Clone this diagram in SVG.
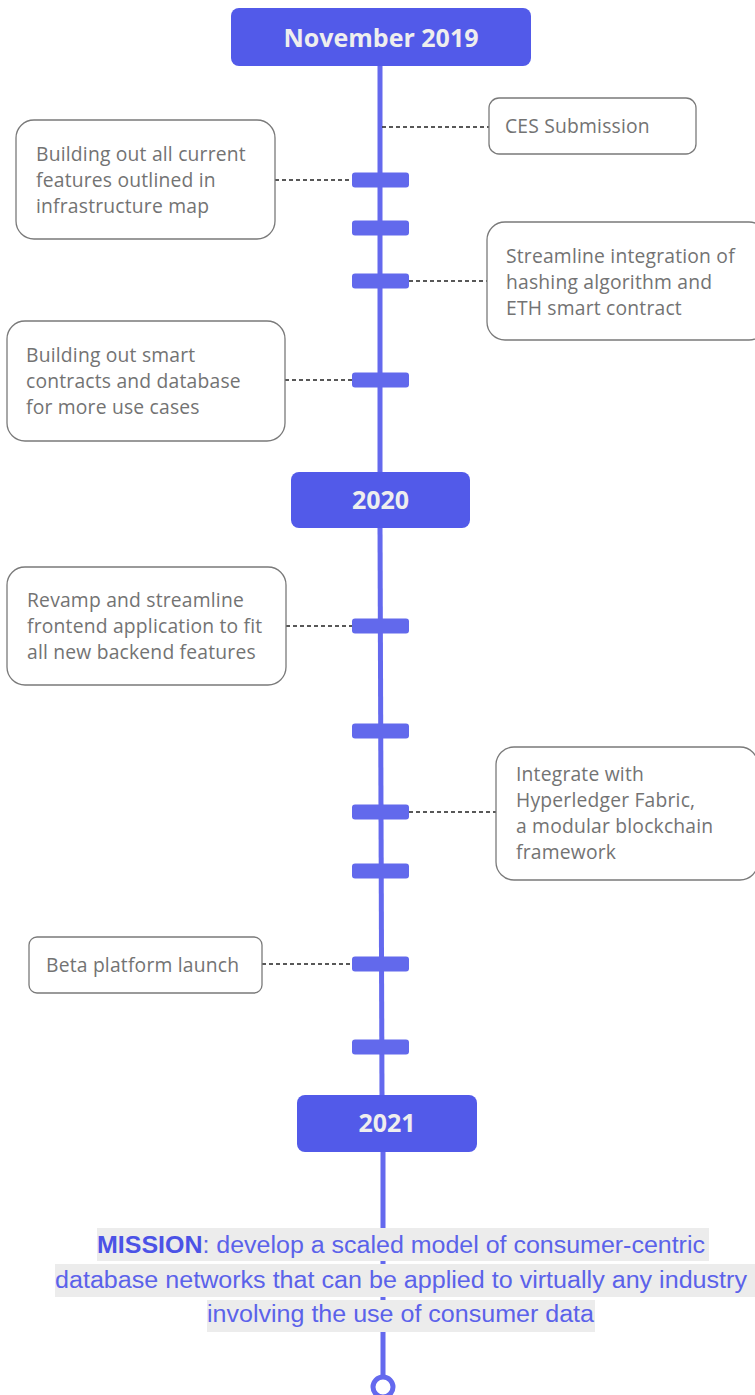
<svg xmlns="http://www.w3.org/2000/svg" width="755" height="1395" viewBox="0 0 755 1395">
<style>
.yr{fill:#525ae9}
.yt{font-family:"Open Sans","Liberation Sans",sans-serif;font-weight:700;font-size:25px;fill:#eeeeee;text-anchor:middle}
.tick{fill:#6269ec}
.spine{stroke:#6469ee;stroke-width:5;fill:none}
.box{fill:#ffffff;stroke:#7a7a7a;stroke-width:1.3}
.bt{font-family:"Open Sans","Liberation Sans",sans-serif;font-size:19.3px;letter-spacing:0.2px;fill:#737373}
.dash{stroke:#222;stroke-width:1.3;stroke-dasharray:4 3;fill:none}
.mbg{fill:#ececec}
.mt{font-family:"Liberation Sans","Arial",sans-serif;font-size:23px;fill:#5b62ea;text-anchor:middle}
.mb{font-weight:700;fill:#4b52e6}
</style>
<g id="connectors">
<line class="spine" x1="380" y1="60" x2="380" y2="475"/>
<line class="spine" x1="380" y1="525" x2="382" y2="1098"/>
<line class="spine" x1="383" y1="1148" x2="383" y2="1376"/>
<circle cx="383" cy="1387" r="10" fill="#ffffff" stroke="#6469ee" stroke-width="5"/>
<line class="dash" x1="382" y1="127" x2="489" y2="127"/>
<line class="dash" x1="275" y1="180" x2="353" y2="180"/>
<line class="dash" x1="409" y1="281" x2="487" y2="281"/>
<line class="dash" x1="285" y1="380" x2="353" y2="380"/>
<line class="dash" x1="286" y1="626" x2="353" y2="626"/>
<line class="dash" x1="409" y1="812" x2="496" y2="812"/>
<line class="dash" x1="262" y1="964" x2="353" y2="964"/>
</g>
<g id="ticks">
<rect class="tick" x="352" y="172.5" width="57" height="15" rx="3"/>
<rect class="tick" x="352" y="220.5" width="57" height="15" rx="3"/>
<rect class="tick" x="352" y="273.5" width="57" height="15" rx="3"/>
<rect class="tick" x="352" y="372.5" width="57" height="15" rx="3"/>
<rect class="tick" x="352" y="618.5" width="57" height="15" rx="3"/>
<rect class="tick" x="352" y="723.5" width="57" height="15" rx="3"/>
<rect class="tick" x="352" y="804.5" width="57" height="15" rx="3"/>
<rect class="tick" x="352" y="863.5" width="57" height="15" rx="3"/>
<rect class="tick" x="352" y="956.5" width="57" height="15" rx="3"/>
<rect class="tick" x="352" y="1039.5" width="57" height="15" rx="3"/>
</g>
<g id="nov2019">
<rect class="yr" x="231" y="8" width="300" height="58" rx="8"/>
<text class="yt" x="381" y="47">November 2019</text>
</g>
<g id="y2020">
<rect class="yr" x="291" y="472" width="179" height="56" rx="8"/>
<text class="yt" x="380.5" y="509">2020</text>
</g>
<g id="y2021">
<rect class="yr" x="297" y="1095" width="180" height="57" rx="8"/>
<text class="yt" x="387" y="1132">2021</text>
</g>
<g id="n-building-current">
<rect class="box" x="16" y="120" width="259" height="119" rx="18"/>
<text class="bt" x="36" y="161">Building out all current</text>
<text class="bt" x="36" y="187">features outlined in</text>
<text class="bt" x="36" y="213">infrastructure map</text>
</g>
<g id="n-ces">
<rect class="box" x="489" y="98" width="207" height="56" rx="10"/>
<text class="bt" x="505" y="133">CES Submission</text>
</g>
<g id="n-streamline">
<rect class="box" x="487" y="222" width="280" height="118" rx="18"/>
<text class="bt" x="506" y="263">Streamline integration of</text>
<text class="bt" x="506" y="289">hashing algorithm and</text>
<text class="bt" x="506" y="315">ETH smart contract</text>
</g>
<g id="n-building-smart">
<rect class="box" x="7" y="321" width="278" height="120" rx="18"/>
<text class="bt" x="26" y="362">Building out smart</text>
<text class="bt" x="26" y="388">contracts and database</text>
<text class="bt" x="26" y="414">for more use cases</text>
</g>
<g id="n-revamp">
<rect class="box" x="7" y="567" width="279" height="118" rx="18"/>
<text class="bt" x="27" y="607">Revamp and streamline</text>
<text class="bt" x="27" y="633">frontend application to fit</text>
<text class="bt" x="27" y="659">all new backend features</text>
</g>
<g id="n-hyperledger">
<rect class="box" x="496" y="747" width="262" height="133" rx="18"/>
<text class="bt" x="516" y="781">Integrate with</text>
<text class="bt" x="516" y="807">Hyperledger Fabric,</text>
<text class="bt" x="516" y="833">a modular blockchain</text>
<text class="bt" x="516" y="859">framework</text>
</g>
<g id="n-beta">
<rect class="box" x="29" y="937" width="233" height="56" rx="8"/>
<text class="bt" x="46" y="972">Beta platform launch</text>
</g>
<g id="mission">
<rect class="mbg" x="97" y="1228" width="612" height="33"/>
<rect class="mbg" x="55" y="1264" width="700" height="33"/>
<rect class="mbg" x="207" y="1300" width="388" height="32"/>
<text class="mt" x="401" y="1253" textLength="608" lengthAdjust="spacingAndGlyphs"><tspan class="mb">MISSION</tspan>: develop a scaled model of consumer-centric</text>
<text class="mt" x="401" y="1288" textLength="692" lengthAdjust="spacingAndGlyphs">database networks that can be applied to virtually any industry</text>
<text class="mt" x="400.5" y="1322" textLength="387" lengthAdjust="spacingAndGlyphs">involving the use of consumer data</text>
</g>
</svg>
